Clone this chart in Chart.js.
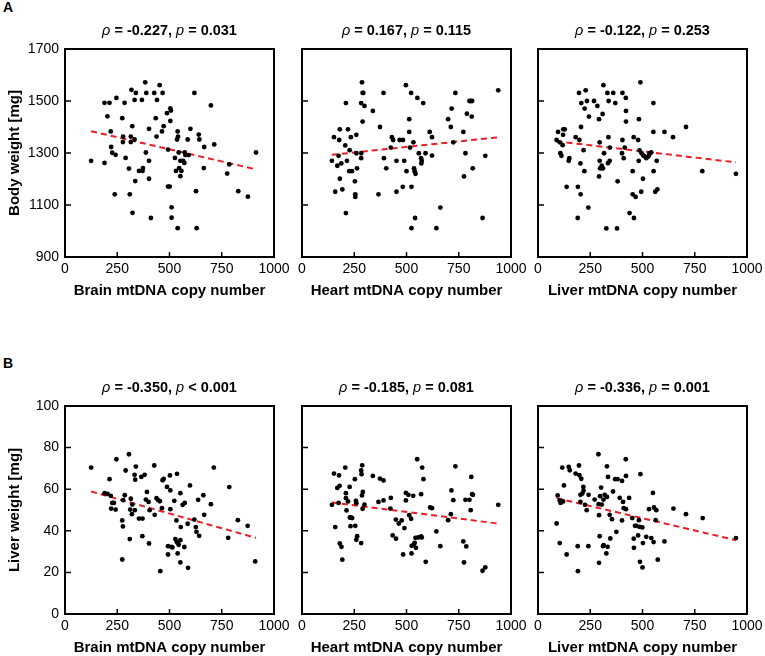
<!DOCTYPE html>
<html>
<head>
<meta charset="utf-8">
<script src="https://cdn.jsdelivr.net/npm/chart.js@4.4.1/dist/chart.umd.min.js"></script>
<style>
  html, body { margin: 0; padding: 0; background: #fff; overflow: hidden; }
  body { width: 765px; height: 656px; position: relative; font-family: "Liberation Sans", Arial, sans-serif; }
  canvas { position: absolute; }
  .tag { position: absolute; font-weight: bold; font-size: 14px; }
</style>
</head>
<body>
<div class="tag" style="left:3px;top:-1px">A</div>
<div class="tag" style="left:3px;top:355px">B</div>
<canvas id="a1" width="294" height="296" style="left:0px;top:4px"></canvas>
<canvas id="a2" width="241" height="296" style="left:290px;top:4px"></canvas>
<canvas id="a3" width="241" height="296" style="left:526px;top:4px"></canvas>
<canvas id="b1" width="294" height="296" style="left:0px;top:361px"></canvas>
<canvas id="b2" width="241" height="296" style="left:290px;top:361px"></canvas>
<canvas id="b3" width="241" height="296" style="left:526px;top:361px"></canvas>
<script>
// mtDNA copy number (x) vs body weight (row A) and liver weight (row B)
const brainCN_A = [125,189,189,213,203,219,221,226,242,246,238,274,278,277,285,290,306,310,318,322,315,315,333,339,333,336,323,354,368,371,373,384,389,387,402,402,402,427,434,440,438,453,467,464,472,411,488,493,504,507,504,493,501,510,510,539,526,531,536,539,541,544,546,552,557,552,565,571,573,576,592,587,600,619,627,630,640,643,666,664,714,698,776,786,829,875,914]
const bodyW_brain = [1270,1262,1493,1493,1441,1383,1323,1301,1293,1512,1141,1434,1363,1342,1493,1281,1240,1141,1543,1403,1363,1342,1504,1531,1352,1192,1070,1231,1504,1231,1242,1572,1531,1302,1393,1270,1201,1531,1434,1504,1363,1561,1531,1383,1403,1050,1453,1313,1472,1463,1423,1171,1171,1091,1051,1011,1281,1231,1352,1383,1363,1302,1242,1270,1231,1211,1270,1262,1302,1292,1292,1352,1393,1531,1153,1011,1371,1352,1323,1242,1333,1483,1221,1256,1153,1132,1302]

const heartCN_A = [143,153,159,169,175,178,181,181,188,193,207,210,210,215,220,228,226,234,239,253,255,255,260,260,263,283,283,283,287,290,293,290,299,339,373,366,390,392,403,425,430,436,452,452,467,483,482,489,497,500,513,513,517,522,524,524,533,536,539,543,541,552,559,570,571,573,580,591,611,622,622,643,662,699,712,716,724,734,772,775,782,789,801,807,814,812,817,864,877,939]
const bodyW_heart = [1270,1361,1151,1251,1289,1350,1391,1201,1260,1160,1329,1492,1069,1270,1391,1311,1230,1361,1230,1191,1141,1131,1370,1299,1241,1280,1299,1492,1572,1531,1531,1421,1481,1462,1400,1141,1531,1280,1241,1321,1361,1350,1270,1151,1350,1350,1170,1270,1561,1230,1430,1381,1321,1531,1170,1011,1341,1241,1230,1220,1050,1512,1299,1280,1260,1270,1492,1299,1381,1361,1290,1011,1090,1430,1400,1471,1341,1531,1381,1210,1299,1451,1500,1500,1500,1440,1241,1050,1289,1541]

const liverCN_A = [89,96,104,107,112,118,120,121,128,137,147,150,180,190,191,196,198,203,204,206,207,218,222,223,228,234,241,244,268,284,292,292,295,295,297,305,305,309,311,313,316,327,332,335,337,338,343,344,360,370,378,381,404,404,402,410,415,420,421,421,438,453,453,458,459,467,479,482,483,490,486,494,496,502,504,507,518,525,531,534,542,552,552,553,561,568,571,605,646,708,786,947]
const bodyW_liver = [1350,1381,1341,1299,1289,1330,1370,1391,1391,1170,1270,1280,1361,1050,1170,1531,1350,1260,1141,1400,1492,1311,1230,1471,1541,1500,1090,1440,1500,1481,1430,1210,1270,1341,1241,1251,1241,1450,1241,1561,1299,1010,1531,1261,1361,1500,1270,1321,1531,1492,1010,1191,1531,1350,1299,1280,1321,1512,1462,1421,1069,1230,1141,1361,1050,1131,1350,1270,1430,1572,1310,1151,1299,1201,1290,1289,1280,1285,1290,1299,1302,1381,1492,1230,1151,1270,1160,1381,1361,1400,1230,1220]

const brainCN_B = [125,189,203,213,219,226,221,234,242,246,274,277,274,278,286,290,306,310,312,315,320,322,333,336,334,339,354,365,370,371,381,387,392,400,405,402,427,429,438,446,454,456,464,467,472,488,493,493,502,504,504,509,514,523,528,533,536,534,539,539,544,552,552,554,552,563,573,571,589,587,598,619,626,629,637,642,662,666,698,712,781,786,827,874,910]
const liverW_brain = [70.4,58.1,57.8,64.8,56.8,53.4,50.7,53.4,50.2,74.4,45.0,42.1,26.2,54.7,57.1,69.0,76.8,36.0,50.2,55.4,48.0,52.6,66.9,64.6,49.9,70.9,45.9,65.9,37.4,45.9,66.9,55.0,58.7,53.9,49.9,33.9,71.4,47.7,55.7,54.7,54.2,20.6,50.9,64.3,64.9,61.1,32.6,28.6,66.6,59.4,50.4,32.3,32.0,54.4,36.0,45.0,67.4,34.7,34.2,29.1,33.3,35.5,58.1,41.8,24.8,52.5,53.4,32.2,22.2,43.4,61.8,45.4,41.8,39.5,54.9,37.6,57.1,47.7,52.8,70.4,36.6,61.0,45.1,42.4,25.3]

const heartCN_B = [143,153,159,177,169,180,175,181,189,193,207,210,210,213,220,228,229,234,232,240,253,255,258,260,260,264,283,285,287,288,291,290,283,299,339,366,373,390,390,425,423,434,450,449,463,477,484,490,497,497,509,513,522,525,524,532,536,539,545,543,551,556,570,573,570,575,581,592,613,622,643,662,699,712,715,724,734,772,775,782,786,801,807,810,814,818,864,877,939]
const liverW_heart = [52.5,67.5,41.8,66.6,60.6,61.6,53.4,33.9,32.3,26.1,70.4,58.1,55.7,49.8,54.1,61.1,46.4,46.4,42.2,46.1,64.8,42.4,54.4,53.3,35.7,37.4,69.0,67.2,57.0,71.5,58.7,50.6,34.1,52.6,66.4,53.9,65.1,64.2,54.6,55.8,50.7,37.8,36.2,45.4,43.5,45.0,28.6,41.3,58.2,54.6,57.3,47.5,45.8,32.8,29.1,56.8,33.6,34.2,31.8,36.6,74.4,36.8,37.3,36.8,57.6,70.4,64.8,25.1,51.2,50.9,39.7,32.6,45.1,48.0,59.4,54.7,71.0,34.9,24.8,54.9,32.5,54.9,49.9,65.9,57.6,57.3,20.8,22.4,52.5]

const liverCN_B = [89,94,104,104,108,112,116,120,124,137,147,152,180,190,191,196,198,203,203,207,212,217,218,225,233,242,241,271,289,290,292,292,295,297,302,305,311,313,314,319,330,330,333,335,327,343,346,354,359,369,375,381,391,402,402,407,410,420,421,421,436,451,458,459,464,470,479,483,485,488,490,499,502,500,518,531,542,550,553,555,563,566,573,605,648,708,788,947]
const liverW_liver = [43.5,57.0,34.1,54.6,53.4,54.1,70.4,54.1,61.8,28.6,70.7,69.1,67.5,32.6,20.6,71.4,66.7,53.9,57.3,65.0,57.9,61.1,59.2,52.5,49.9,57.3,32.6,55.0,76.8,52.8,24.6,47.5,37.4,56.6,60.8,52.6,32.6,55.0,33.1,57.3,56.3,71.0,32.3,65.9,29.1,47.7,36.3,45.6,58.9,64.8,39.5,64.8,55.8,64.0,45.0,53.9,50.9,74.4,66.4,50.4,55.8,46.1,36.2,31.8,42.4,42.4,37.8,45.1,41.9,25.1,67.2,41.6,34.1,22.4,37.1,50.4,36.5,58.2,34.6,51.2,45.1,49.9,26.1,34.9,50.7,48.0,46.1,36.5]

// fitted lines (end points)
const fitX = [[125, 914], [143, 944], [89, 947], [125, 914], [143, 944], [89, 947]]
const fitY = [[1384, 1237], [1293, 1361], [1345, 1264], [58.9, 36.6], [53.6, 43.4], [55.7, 35.5]]

const rhoText = ['-0.227', '0.167', '-0.122', '-0.350', '-0.185', '-0.336']
const pText = ['= 0.031', '= 0.115', '= 0.253', '< 0.001', '= 0.081', '= 0.001']
const xTitles = ['Brain mtDNA copy number', 'Heart mtDNA copy number', 'Liver mtDNA copy number']
const yTitles = ['Body weight [mg]', 'Liver weight [mg]']

const FONT = '"Liberation Sans", Arial, sans-serif'

// box round the plot area, inward ticks and the rho / p heading
const framePlugin = {
  id: 'frame',
  afterDraw(chart, args, opts) {
    const ctx = chart.ctx
    const a = chart.chartArea
    const xs = chart.scales.x
    const ys = chart.scales.y
    ctx.save()
    ctx.strokeStyle = '#000'
    ctx.lineWidth = 1.5
    ctx.beginPath()
    xs.ticks.forEach(function (t) {
      const px = xs.getPixelForValue(t.value)
      ctx.moveTo(px, a.bottom)
      ctx.lineTo(px, a.bottom - 5)
    })
    ys.ticks.forEach(function (t) {
      const py = ys.getPixelForValue(t.value)
      ctx.moveTo(a.left, py)
      ctx.lineTo(a.left + 6, py)
    })
    ctx.stroke()
    ctx.lineWidth = 2
    ctx.strokeRect(a.left, a.top, a.right - a.left, a.bottom - a.top)

    const parts = [
      { t: '\u03c1', f: 'italic 14.5px ' + FONT },
      { t: ' = ' + opts.rho + ', ', f: 'bold 14.5px ' + FONT },
      { t: 'p', f: 'italic 14.5px ' + FONT },
      { t: ' ' + opts.p, f: 'bold 14.5px ' + FONT }
    ]
    let total = 0
    parts.forEach(function (s) { ctx.font = s.f; s.w = ctx.measureText(s.t).width; total += s.w })
    let x = (a.left + a.right) / 2 - total / 2
    ctx.fillStyle = '#000'
    ctx.textBaseline = 'middle'
    ctx.textAlign = 'left'
    parts.forEach(function (s) { ctx.font = s.f; ctx.fillText(s.t, x, a.top - 18); x += s.w })
    ctx.restore()
  }
}

function plainNumber(v) { return String(v) }

function makePanel(id, i, xs, ys, yMin, yMax, yStep, showY) {
  const col = i % 3
  const row = Math.floor(i / 3)
  new Chart(document.getElementById(id), {
    type: 'scatter',
    data: {
      datasets: [{
        data: xs.map(function (v, k) { return { x: v, y: ys[k] } }),
        backgroundColor: '#000',
        borderColor: '#000',
        pointRadius: 2.4,
        borderWidth: 0
      }, {
        type: 'line',
        data: fitX[i].map(function (v, k) { return { x: v, y: fitY[i][k] } }),
        borderColor: 'rgb(236,28,36)',
        borderWidth: 2,
        borderDash: [6, 4],
        pointRadius: 0,
        fill: false
      }]
    },
    options: {
      responsive: false,
      animation: false,
      devicePixelRatio: 1,
      layout: { padding: { top: 45, right: 20, left: 0, bottom: 0 } },
      plugins: {
        legend: { display: false },
        tooltip: { enabled: false },
        frame: { rho: rhoText[i], p: pText[i] }
      },
      scales: {
        x: {
          type: 'linear',
          min: 0,
          max: 1000,
          grid: { display: false, drawTicks: false },
          border: { display: false },
          ticks: { stepSize: 250, color: '#000', padding: 4, maxRotation: 0, callback: plainNumber, font: { family: FONT, size: 14 } },
          title: { display: true, text: xTitles[col], color: '#000', padding: 0, font: { family: FONT, size: 15, weight: 'bold' } },
          afterFit: function (s) { s.height = 43 }
        },
        y: {
          min: yMin,
          max: yMax,
          grid: { display: false, drawTicks: false },
          border: { display: false },
          ticks: { display: showY, stepSize: yStep, color: '#000', padding: 6, callback: plainNumber, font: { family: FONT, size: 14 } },
          title: { display: showY, text: yTitles[row], color: '#000', padding: { top: 6, bottom: 0 }, font: { family: FONT, size: 15, weight: 'bold' } },
          afterFit: function (s) { s.width = showY ? 65 : 12 }
        }
      }
    },
    plugins: [framePlugin]
  })
}

makePanel('a1', 0, brainCN_A, bodyW_brain, 900, 1700, 200, true)
makePanel('a2', 1, heartCN_A, bodyW_heart, 900, 1700, 200, false)
makePanel('a3', 2, liverCN_A, bodyW_liver, 900, 1700, 200, false)
makePanel('b1', 3, brainCN_B, liverW_brain, 0, 100, 20, true)
makePanel('b2', 4, heartCN_B, liverW_heart, 0, 100, 20, false)
makePanel('b3', 5, liverCN_B, liverW_liver, 0, 100, 20, false)
</script>
</body>
</html>
